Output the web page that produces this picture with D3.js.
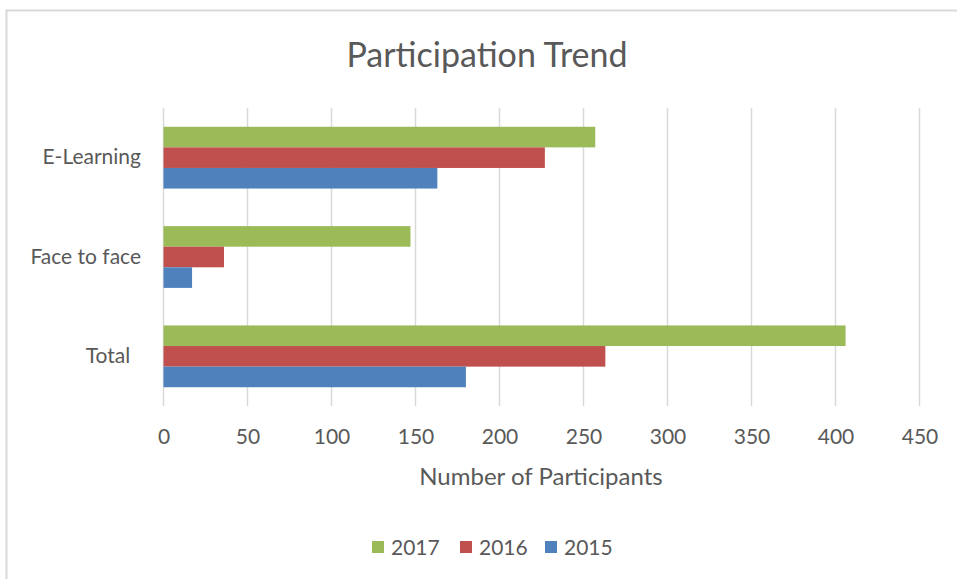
<!DOCTYPE html>
<html>
<head>
    <meta charset="UTF-8">
    <title>Participation Trend</title>
    <style>
        body { margin: 0; background: #fff; }
        text { font-family: Lato, "Open Sans", sans-serif; fill: #595959; }
    </style>
</head>
<body>
    <div id="chart"></div>

    <script src="https://d3js.org/d3.v7.min.js"></script>
    <script>
        // data
        var categories = ["E-Learning", "Face to face", "Total "];
        var years = ["2017", "2016", "2015"];
        var values2017 = [257, 147, 406];
        var values2016 = [227, 36, 263];
        var values2015 = [163, 17, 180];
        var xTicks = [0, 50, 100, 150, 200, 250, 300, 350, 400, 450];
        var colors = ["#9BBB59", "#C0504D", "#4F81BD"];

        var series = [values2017, values2016, values2015];

        var width = 957, height = 579;
        var plot = { left: 163.5, right: 919.5, top: 108, bottom: 406 };

        var svg = d3.select("#chart")
            .append("svg")
            .attr("width", width)
            .attr("height", height);

        // chart border
        svg.append("rect")
            .attr("x", 6.5).attr("y", 10.5)
            .attr("width", 970).attr("height", 600)
            .attr("fill", "none")
            .attr("stroke", "#d9d9d9")
            .attr("stroke-width", 2);

        var x = d3.scaleLinear().domain([0, 450]).range([plot.left, plot.right]);

        var y = d3.scaleBand()
            .domain(categories)
            .range([plot.top, plot.bottom])
            .paddingInner(0.378)
            .paddingOuter(0.189);

        var yInner = d3.scaleBand()
            .domain(years)
            .range([0, y.bandwidth()]);

        // gridlines
        svg.append("g")
            .selectAll("line")
            .data(xTicks)
            .enter()
            .append("line")
            .attr("x1", function (d) { return x(d); })
            .attr("x2", function (d) { return x(d); })
            .attr("y1", plot.top)
            .attr("y2", plot.bottom)
            .attr("stroke", "#d9d9d9")
            .attr("stroke-width", 1.5);

        // bars
        var groups = svg.append("g")
            .selectAll("g")
            .data(categories)
            .enter()
            .append("g")
            .attr("transform", function (d) { return "translate(0," + y(d) + ")"; });

        groups.selectAll("rect")
            .data(function (d, i) {
                return years.map(function (yr, j) {
                    return { year: yr, value: series[j][i], color: colors[j] };
                });
            })
            .enter()
            .append("rect")
            .attr("x", x(0))
            .attr("y", function (d) { return yInner(d.year); })
            .attr("width", function (d) { return x(d.value) - x(0); })
            .attr("height", yInner.bandwidth())
            .attr("fill", function (d) { return d.color; });

        // x axis labels
        var xAxis = svg.append("g")
            .attr("transform", "translate(0," + plot.bottom + ")")
            .call(d3.axisBottom(x).tickValues(xTicks).tickSize(0).tickPadding(23));
        xAxis.select(".domain").remove();
        xAxis.selectAll("text")
            .style("font-size", "21px")
            .style("font-family", "Lato, 'Open Sans', sans-serif")
            .attr("fill", "#595959");

        // y axis labels
        var yAxis = svg.append("g")
            .attr("transform", "translate(141,0)")
            .call(d3.axisLeft(y).tickSize(0).tickPadding(0));
        yAxis.select(".domain").remove();
        yAxis.selectAll("text")
            .style("font-size", "21px")
            .style("font-family", "Lato, 'Open Sans', sans-serif")
            .attr("fill", "#595959")
            .text(function (d) { return d.replace(/ $/, "\u00a0\u00a0"); });

        // title
        svg.append("text")
            .attr("x", 487)
            .attr("y", 67)
            .attr("text-anchor", "middle")
            .style("font-size", "34px")
            .text("Participation Trend");

        // axis title
        svg.append("text")
            .attr("x", 541)
            .attr("y", 485)
            .attr("text-anchor", "middle")
            .style("font-size", "24px")
            .text("Number of Participants");

        // legend
        var legendX = [372, 460, 545];
        var legend = svg.append("g")
            .selectAll("g")
            .data(years)
            .enter()
            .append("g")
            .attr("transform", function (d, i) { return "translate(" + legendX[i] + ",541)"; });

        legend.append("rect")
            .attr("width", 12).attr("height", 12)
            .attr("fill", function (d, i) { return colors[i]; });

        legend.append("text")
            .attr("x", 19)
            .attr("y", 14)
            .style("font-size", "21px")
            .text(function (d) { return d; });
    </script>
</body>
</html>
